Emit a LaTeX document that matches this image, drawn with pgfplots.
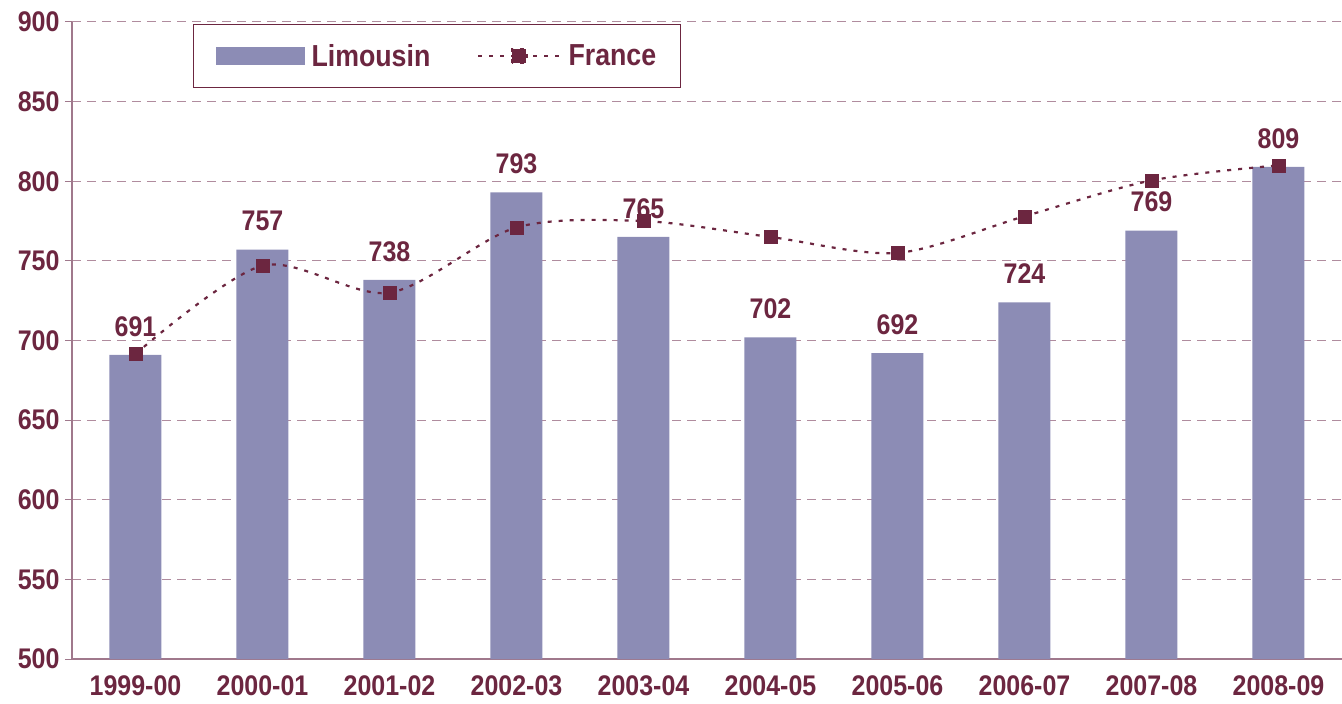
\documentclass[border=0pt]{standalone}
\usepackage{pgfplots}
\pgfplotsset{compat=1.18}
\usepackage{fontspec}
\setmainfont[FakeStretch=0.88]{Liberation Sans}
\definecolor{maroon}{RGB}{108,38,64}
\definecolor{barc}{RGB}{140,140,181}
\definecolor{gridc}{RGB}{176,140,158}
\definecolor{axc}{RGB}{160,120,140}
\begin{document}
\begin{tikzpicture}
\path[use as bounding box] (-72bp,-45bp) rectangle (1270bp,659bp);
\begin{axis}[
  at={(0,0)}, anchor=south west,
  scale only axis, width=1270bp, height=637bp,
  xmin=-0.5, xmax=9.5, ymin=500, ymax=900,
  ytick={500,550,...,900},
  xtick={0,...,9},
  xticklabels={1999-00,2000-01,2001-02,2002-03,2003-04,2004-05,2005-06,2006-07,2007-08,2008-09},
  extra x ticks={-0.5,0.5,...,8.5}, extra x tick labels={},
  extra x tick style={major tick length=7bp, tick style={axc, line width=1bp}, grid=none},
  x tick style={draw=none},
  y tick style={axc, line width=1bp},
  major tick length=7bp,
  tick align=outside,
  axis x line*=bottom, axis y line*=left,
  axis line style={axc, line width=1.2bp, -},
  ymajorgrids, grid style={gridc, dash pattern=on 9bp off 6bp, line width=1bp},
  ticklabel style={font=\fontsize{28.5}{31}\selectfont\bfseries, text=maroon},
  /pgf/number format/assume math mode=true,
  xticklabel style={yshift=-6bp},
  yticklabel style={xshift=-2bp},
  legend style={at={(0.0953,0.997)}, anchor=north west, draw=maroon, line width=1bp,
    font=\fontsize{30.5}{33}\selectfont\bfseries, text=maroon,
    inner xsep=22bp, inner ysep=18bp,
    /tikz/every even column/.append style={column sep=45bp},
    /tikz/every odd column/.append style={column sep=5bp}},
  legend columns=2,
  clip=false,
]
\addplot[ybar, bar width=52bp, fill=barc, draw=none,
  nodes near coords, point meta=explicit symbolic,
  every node near coord/.append style={font=\fontsize{28.5}{31}\selectfont\bfseries, text=maroon, yshift=15bp},
  legend image code/.code={\fill[barc] (0bp,-9bp) rectangle (89bp,9bp);}]
  coordinates {(0,691)[691] (1,757)[757] (2,738)[738] (3,793)[793] (4,765)[765] (5,702)[702] (6,692)[692] (7,724)[724] (8,769)[769] (9,809)[809]};
\addlegendentry{Limousin}
\addplot[smooth, maroon, line width=2.2bp, dash pattern=on 4bp off 7bp,
  mark=square*, mark size=6.5bp, mark options={solid, fill=maroon, draw=maroon, line width=0.5bp},
  legend image code/.code={\draw[maroon, line width=2.2bp, dash pattern=on 4bp off 7bp] (0bp,0bp) -- (82bp,0bp);
    \fill[maroon] (34bp,-7bp) rectangle (48bp,7bp);}]
  coordinates {(0,691.5) (1,747) (2,730) (3,771) (4,775) (5,765) (6,755) (7,778) (8,800.5) (9,810)};
\addlegendentry{France}
\end{axis}
\end{tikzpicture}
\end{document}
